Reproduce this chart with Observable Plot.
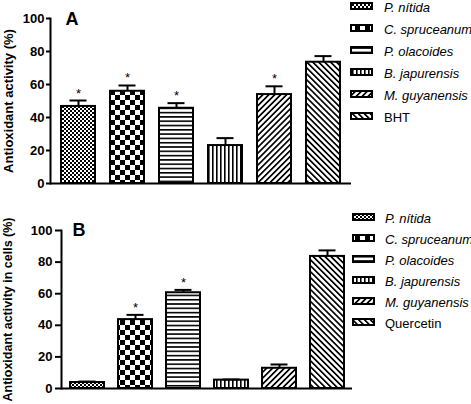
<!DOCTYPE html>
<html><head><meta charset="utf-8">
<script src="https://cdn.jsdelivr.net/npm/d3@7"></script>
<script src="https://cdn.jsdelivr.net/npm/@observablehq/plot@0.6"></script>
<style>
body{margin:0;background:#fff;width:471px;height:404px;position:relative;overflow:hidden;font-family:"Liberation Sans",Arial,sans-serif}
#a{position:absolute;left:0;top:0}
#b{position:absolute;left:0;top:200px}
</style></head><body>
<svg width="0" height="0" style="position:absolute">
<defs>
<pattern id="p-fine" width="4" height="4" patternUnits="userSpaceOnUse"><rect width="4" height="4" fill="#fff"/><rect width="2" height="2" fill="#000"/><rect x="2" y="2" width="2" height="2" fill="#000"/></pattern>
<pattern id="p-check" width="10" height="10" patternUnits="userSpaceOnUse"><rect width="10" height="10" fill="#fff"/><rect width="5" height="5" fill="#000"/><rect x="5" y="5" width="5" height="5" fill="#000"/></pattern>
<pattern id="p-horiz" width="4" height="4.3" patternUnits="userSpaceOnUse"><rect width="4" height="4.3" fill="#fff"/><rect width="4" height="1.6" fill="#000"/></pattern>
<pattern id="p-vert" width="4" height="4" patternUnits="userSpaceOnUse"><rect width="4" height="4" fill="#fff"/><rect width="1.6" height="4" fill="#000"/></pattern>
<pattern id="p-fwd" width="4.2" height="4.2" patternUnits="userSpaceOnUse" patternTransform="rotate(45)"><rect width="4.2" height="4.2" fill="#fff"/><rect width="1.7" height="4.2" fill="#000"/></pattern>
<pattern id="p-back" width="4.2" height="4.2" patternUnits="userSpaceOnUse" patternTransform="rotate(-45)"><rect width="4.2" height="4.2" fill="#fff"/><rect width="1.7" height="4.2" fill="#000"/></pattern>
</defs></svg>
<div id="a"></div>
<div id="b"></div>
<script>
// ---- data ----
const speciesA = ["P. nítida", "C. spruceanum", "P. olacoides", "B. japurensis", "M. guyanensis", "BHT"];
const meanA = [46.7, 55.9, 45.6, 23.0, 53.9, 73.5];
const errA = [3.6, 3.5, 3.1, 4.5, 5.0, 3.7];
const sigA = [true, true, true, false, true, false];

const speciesB = ["P. nítida", "C. spruceanum", "P. olacoides", "B. japurensis", "M. guyanensis", "Quercetin"];
const meanB = [3.8, 43.6, 60.6, 5.3, 12.8, 83.6];
const errB = [0.6, 3.0, 1.8, 0.4, 2.4, 3.8];
const sigB = [false, true, true, false, false, false];

const yTicks = [0, 20, 40, 60, 80, 100];
const patternIds = ["p-fine", "p-check", "p-horiz", "p-vert", "p-fwd", "p-back"];
const italicNames = [true, true, true, true, true, false];

function panel(o) {
  const rows = o.species.map((s, i) => ({species: s, mean: o.mean[i], top: o.mean[i] + o.err[i], sig: o.sig[i]}));
  const svg = Plot.plot({
    width: 471, height: o.height,
    marginTop: o.mt, marginBottom: o.mb, marginLeft: o.ml, marginRight: o.mr,
    style: {fontFamily: "'Liberation Sans', Arial, sans-serif", background: "#fff", overflow: "visible", color: "#000"},
    x: {type: "band", domain: o.species, paddingInner: o.pi, paddingOuter: o.po, axis: null},
    y: {domain: [0, 100], axis: null},
    color: {type: "ordinal", domain: o.species, range: patternIds.map(p => `url(#${p})`)},
    marks: [
      Plot.barY(rows, {x: "species", y: "mean", fill: "species", stroke: "#000", strokeWidth: 2}),
      Plot.ruleX(rows, {x: "species", y1: "mean", y2: "top", stroke: "#000", strokeWidth: 2}),
      Plot.tickY(rows, {x: "species", y: "top", stroke: "#000", strokeWidth: 2, insetLeft: 8.5, insetRight: 8.5}),
      Plot.text(rows.filter(d => d.sig), {x: "species", y: "top", text: () => "*", lineAnchor: "bottom", dy: -3, fontSize: 13, fill: "#000"}),
      Plot.ruleY([0], {stroke: "#000", strokeWidth: 2}),
      Plot.frame({anchor: "left", stroke: "#000", strokeWidth: 2}),
      Plot.axisY({ticks: yTicks, tickSize: o.ts, tickPadding: o.tp, strokeWidth: 2, fontSize: 13, fontWeight: "bold", label: null}),
      Plot.text([o.letter], {frameAnchor: "top-left", text: d => d, dx: o.ldx, dy: o.ldy, lineAnchor: "top", textAnchor: "start", fontSize: 18, fontWeight: "bold", fill: "#000"}),
      Plot.text([o.ylabel], {frameAnchor: "left", text: d => d, rotate: -90, dx: -(o.ml - 3), lineAnchor: "top", textAnchor: "middle", fontSize: o.yfs, fontWeight: "bold", fill: "#000"})
    ]
  });
  const g = d3.select(svg).append("g").attr("text-anchor", "start");
  o.species.forEach((s, i) => {
    const y = o.legY + i * o.legStep;
    g.append("rect").attr("x", o.swX + 1).attr("y", y - 3).attr("width", 21).attr("height", 6)
      .attr("fill", `url(#${patternIds[i]})`).attr("stroke", "#000").attr("stroke-width", 2);
    g.append("text").attr("x", o.txX).attr("y", y).attr("dy", "0.48em").attr("text-anchor", "start")
      .attr("font-size", 13).attr("font-style", italicNames[i] ? "italic" : "normal")
      .attr("fill", "#000").text(s);
  });
  document.getElementById(o.el).appendChild(svg);
}

panel({el: "a", species: speciesA, mean: meanA, err: errA, sig: sigA, letter: "A",
  ylabel: "Antioxidant activity (%)", yfs: 13,
  height: 200, mt: 18, mb: 17, ml: 50, mr: 120, pi: 0.31, po: 0.2, ts: 4, tp: 2,
  ldx: 15, ldy: -6, legY: 6, legStep: 22, swX: 350, txX: 384});

panel({el: "b", species: speciesB, mean: meanB, err: errB, sig: sigB, letter: "B",
  ylabel: "Antioxidant activity in cells (%)", yfs: 12.5,
  height: 204, mt: 30, mb: 16, ml: 61, mr: 119, pi: 0.3, po: 0.12, ts: 6, tp: 3,
  ldx: 11, ldy: -7, legY: 17, legStep: 21, swX: 352, txX: 385});
</script>
</body></html>
